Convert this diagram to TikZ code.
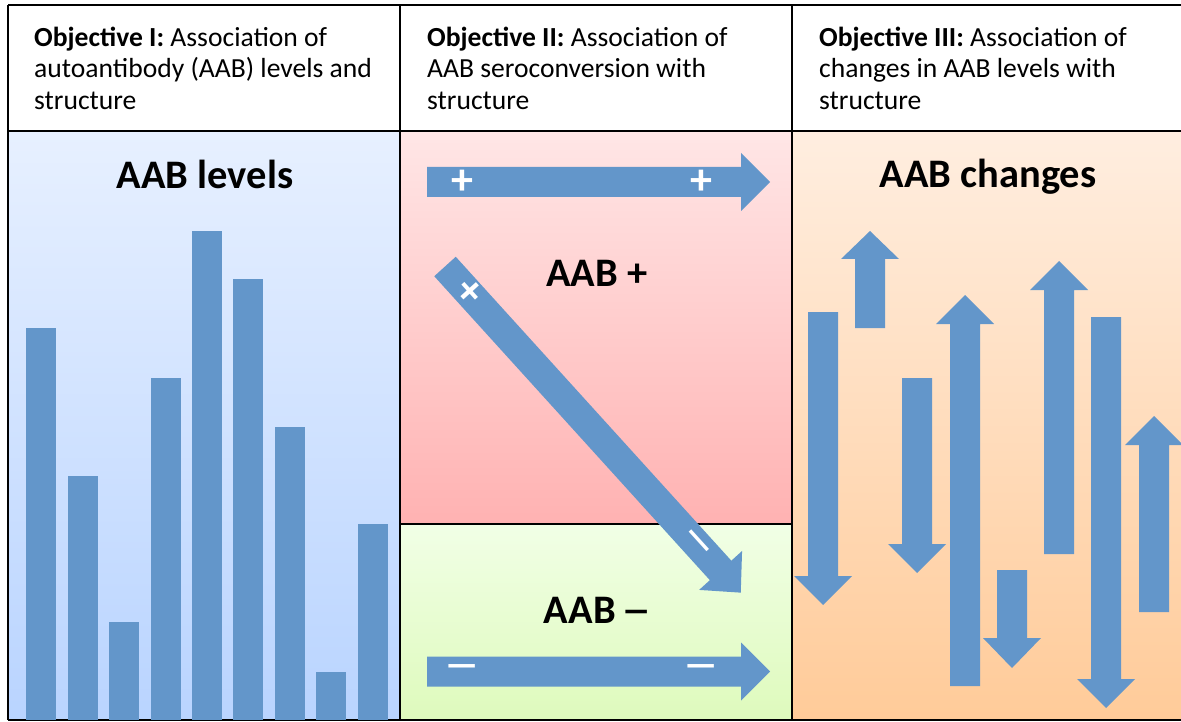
\documentclass[tikz,border=0pt]{standalone}
\usepackage{fontspec}
\usepackage{graphicx}
\setmainfont{Carlito}
\definecolor{arrowblue}{RGB}{99,150,202}
\definecolor{blueTop}{RGB}{231,240,255}
\definecolor{blueBot}{RGB}{185,212,255}
\definecolor{pinkTop}{RGB}{255,230,230}
\definecolor{pinkBot}{RGB}{255,178,178}
\definecolor{greenTop}{RGB}{241,255,230}
\definecolor{greenBot}{RGB}{222,250,188}
\definecolor{orangeTop}{RGB}{255,238,224}
\definecolor{orangeBot}{RGB}{255,203,153}
\newcommand\myVArrow[4]{% cx, tail y, head base y, tip y
  \fill[arrowblue] (#1-15,#2) -- (#1+15,#2) -- (#1+15,#3) -- (#1+29,#3) -- (#1,#4) -- (#1-29,#3) -- (#1-15,#3) -- cycle;}
\newcommand\myHArrow[4]{% cy, tail x, head base x, tip x
  \fill[arrowblue] (#2,#1-15) -- (#2,#1+15) -- (#3,#1+15) -- (#3,#1+29) -- (#4,#1) -- (#3,#1-29) -- (#3,#1-15) -- cycle;}
\newcommand\myDash{\scalebox{1.7}[0.9]{–}}
\begin{document}
\begin{tikzpicture}[x=1pt,y=-1pt,
  hdr/.style={anchor=base west,inner sep=0pt,font=\fontsize{27.6}{31.5}\selectfont},
  big/.style={anchor=base,inner sep=0pt,font=\fontsize{40.5}{48}\selectfont\bfseries},
  signtxt/.style={inner sep=0pt,text=white,font=\fontsize{44}{48}\selectfont\bfseries},
  dashtxt/.style={inner sep=0pt,text=white,font=\fontsize{44}{48}\selectfont\bfseries},
  framing/.style={line width=2.6pt,draw=black},
  barfill/.style={fill=arrowblue}]
\useasboundingbox (0,0) rectangle (1181,722);
\clip (0,0) rectangle (1181,722);
\fill[white] (0,0) rectangle (1181,722);
% panels
\shade[top color=blueTop,bottom color=blueBot] (8,131) rectangle (400,720);
\shade[top color=pinkTop,bottom color=pinkBot] (400,131) rectangle (792,524);
\shade[top color=greenTop,bottom color=greenBot] (400,524) rectangle (792,720);
\shade[top color=orangeTop,bottom color=orangeBot] (792,131) rectangle (1190,720);
% frame
\draw[framing] (8,5) -- (1190,5);
\draw[framing] (8,131) -- (1190,131);
\draw[framing] (8,720) -- (1190,720);
\draw[framing] (8,5) -- (8,720);
\draw[framing] (400,5) -- (400,720);
\draw[framing] (792,5) -- (792,720);
\draw[framing] (400,524) -- (792,524);
% headers
\node[hdr] (h1a) at (34,46.5) {\textbf{Objective I:} Association of};
\node[hdr] (h1b) at (34,78) {autoantibody (AAB) levels and};
\node[hdr] (h1c) at (34,109.5) {structure};
\node[hdr] (h2a) at (427,46.5) {\textbf{Objective II:} Association of};
\node[hdr] (h2b) at (427,78) {AAB seroconversion with};
\node[hdr] (h2c) at (427,109.5) {structure};
\node[hdr] (h3a) at (819,46.5) {\textbf{Objective III:} Association of};
\node[hdr] (h3b) at (819,78) {changes in AAB levels with};
\node[hdr] (h3c) at (819,109.5) {structure};
% panel I: bars
\node[big] (lev) at (205,189) {AAB levels};
\foreach \x/\t in {26/328,68/476,109/622,151/378,192/231,233/279,275/427,316/672,358/524}
  \fill[barfill] (\x,\t) rectangle (\x+30,720);
% panel II
\node[big] (pos) at (597,287) {AAB +};
\node[big] (neg) at (598,623) {AAB\hspace{6pt}\scalebox{1.5}[1]{–}};
\myHArrow{182}{427}{741}{770}
\myHArrow{671.5}{427}{741}{770}
\node[signtxt] (p1) at (462.5,182.5) {+};
\node[signtxt] (p2) at (701.5,182.5) {+};
\node[dashtxt] (m1) at (462.5,671.5) {\myDash};
\node[dashtxt] (m2) at (701.5,671.5) {\myDash};
\begin{scope}[shift={(445,266.5)},rotate=-47.8]
  \fill[arrowblue] (0,-14.5) -- (410.3,-14.5) -- (410.3,-29) -- (440.3,0) -- (410.3,29) -- (410.3,14.5) -- (0,14.5) -- cycle;
  \node[signtxt,rotate=-47.8] (d1) at (35,0) {+};
  \node[dashtxt,rotate=-47.8] (d2) at (374,0) {\myDash};
\end{scope}
% panel III
\node[big] (chg) at (988,188) {AAB changes};
\myVArrow{823}{312}{576}{605}
\myVArrow{870}{328}{259}{231}
\myVArrow{917}{378}{544}{573}
\myVArrow{965}{686}{324}{295}
\myVArrow{1012}{570}{638}{668}
\myVArrow{1059}{554}{290}{261}
\myVArrow{1106}{317}{679}{708}
\myVArrow{1154}{612}{445}{416}
\end{tikzpicture}
\end{document}
